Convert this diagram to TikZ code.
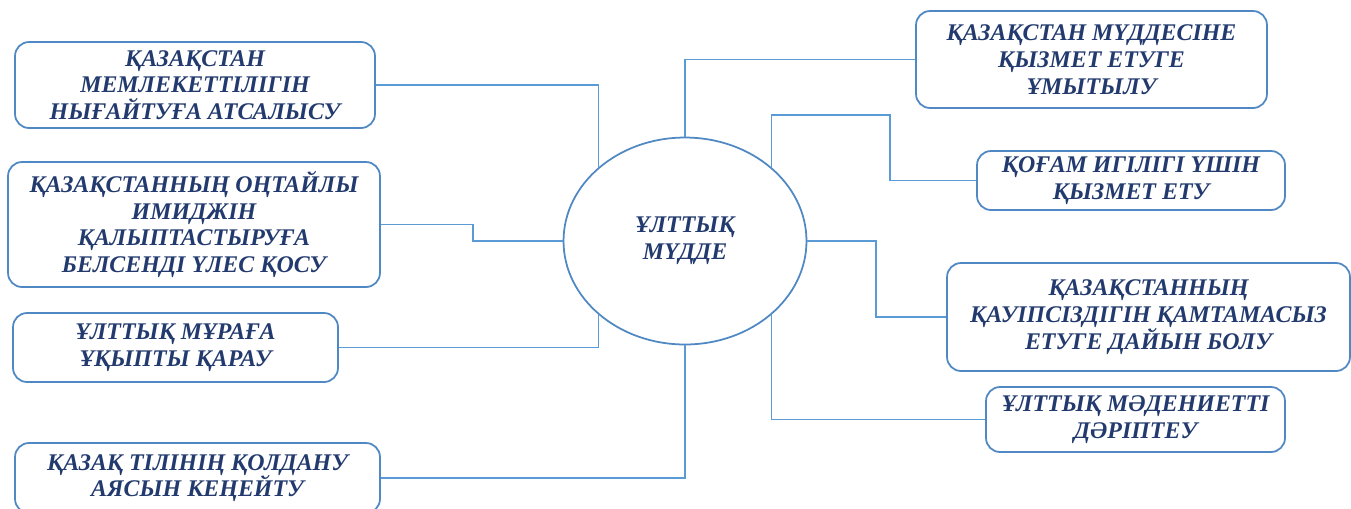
\documentclass[tikz,border=0pt]{standalone}
\usepackage{fontspec}
\setmainfont{Liberation Serif}
\usepackage{tikz}
\usetikzlibrary{shapes,calc,positioning}
\definecolor{linie}{HTML}{5B9BD5}
\definecolor{rand}{HTML}{4F88C2}
\definecolor{schrift}{HTML}{223A6E}
\tikzstyle{kasten} = [draw=rand, line width=1pt, rounded corners=0.28cm, fill=white, align=center, text=schrift, font=\fontsize{13.6}{15.2}\selectfont\bfseries\itshape, inner sep=2pt]
\tikzstyle{linie} = [draw=linie, line width=1.1pt]

\begin{document}
\begin{tikzpicture}[x=0.02cm, y=-0.02cm]
      \useasboundingbox (0,0) rectangle (1351,508);
      \node[ellipse, draw=rand, line width=1pt, minimum width=4.86cm, minimum height=4.14cm, align=center, text=schrift, font=\fontsize{13.6}{15.2}\selectfont\bfseries\itshape] (mid) at (685,241) {ҰЛТТЫҚ\\МҮДДЕ};
      % links
      \node[kasten, minimum width=7.2cm, minimum height=1.72cm] (b1) at (195,85) {ҚАЗАҚСТАН\\МЕМЛЕКЕТТІЛІГІН\\НЫҒАЙТУҒА АТСАЛЫСУ};
      \node[kasten, minimum width=7.44cm, minimum height=2.5cm] (b2) at (194,224.5) {ҚАЗАҚСТАННЫҢ ОҢТАЙЛЫ\\ИМИДЖІН\\ҚАЛЫПТАСТЫРУҒА\\БЕЛСЕНДІ ҮЛЕС ҚОСУ};
      \node[kasten, minimum width=6.5cm, minimum height=1.38cm] (b3) at (175.5,347.5) {ҰЛТТЫҚ МҰРАҒА\\ҰҚЫПТЫ ҚАРАУ};
      \node[kasten, minimum width=7.3cm, minimum height=1.4cm] (b4) at (197.5,478) {ҚАЗАҚ ТІЛІНІҢ ҚОЛДАНУ\\АЯСЫН КЕҢЕЙТУ};
      % rechts
      \node[kasten, minimum width=7.02cm, minimum height=1.94cm] (b5) at (1091.5,59.5) {ҚАЗАҚСТАН МҮДДЕСІНЕ\\ҚЫЗМЕТ ЕТУГЕ\\ҰМЫТЫЛУ};
      \node[kasten, minimum width=6.16cm, minimum height=1.18cm] (b6) at (1131,180.5) {ҚОҒАМ ИГІЛІГІ ҮШІН\\ҚЫЗМЕТ ЕТУ};
      \node[kasten, minimum width=8.06cm, minimum height=2.16cm] (b7) at (1148.5,317) {ҚАЗАҚСТАННЫҢ\\ҚАУІПСІЗДІГІН ҚАМТАМАСЫЗ\\ЕТУГЕ ДАЙЫН БОЛУ};
      \node[kasten, minimum width=5.98cm, minimum height=1.3cm] (b8) at (1135.5,419.5) {ҰЛТТЫҚ МӘДЕНИЕТТІ\\ДӘРІПТЕУ};
      \coordinate (k6) at (mid.north east |- 0,115);
      \draw[linie] (b1.east) -| (mid.north west);
      \draw[linie] (b2.east) -- ++(92,0) |- (mid.west);
      \draw[linie] (b3.east) -| (mid.south west);
      \draw[linie] (b4.east) -| (mid.south);
      \draw[linie] (b5.west) -| (mid.north);
      \draw[linie] (b6.west) -- ++(-86,0) |- (k6) -- (mid.north east);
      \draw[linie] (b7.west) -- ++(-70,0) |- (mid.east);
      \draw[linie] (b8.west) -| (mid.south east);
    \end{tikzpicture}
\end{document}
